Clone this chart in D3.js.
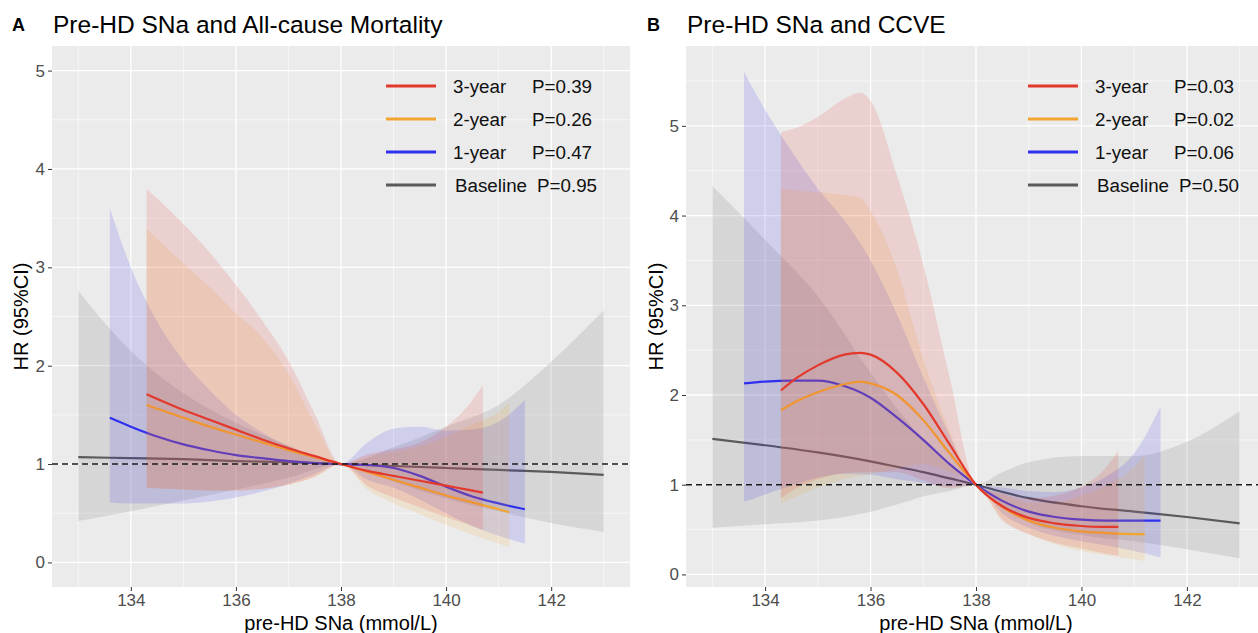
<!DOCTYPE html>
<html>
<head>
<meta charset="utf-8">
<script src="https://cdn.jsdelivr.net/npm/d3@7"></script>
<style>
  body { margin: 0; background: #fff; }
  svg { display: block; font-family: "Liberation Sans", Arial, sans-serif; }
</style>
</head>
<body>
<svg id="chart" width="1258" height="633"></svg>
<script>
// rows are [SNa, HR, lower 95%CI, upper 95%CI]
var mortBaseline = [
  [133, 1.07, 0.42, 2.76], [134, 1.06, 0.52, 2.15], [135, 1.05, 0.63, 1.72],
  [136, 1.03, 0.74, 1.42], [137, 1.02, 0.86, 1.19], [138, 1.00, 1.00, 1.00],
  [139, 0.98, 0.82, 1.17], [140, 0.96, 0.65, 1.38], [141, 0.94, 0.52, 1.60],
  [142, 0.92, 0.40, 2.04], [143, 0.89, 0.31, 2.56]
];
var mort1yr = [
  [133.6, 1.47, 0.61, 3.60], [134.0, 1.38, 0.60, 3.00], [134.5, 1.28, 0.60, 2.45],
  [135.0, 1.20, 0.60, 2.05], [135.5, 1.14, 0.62, 1.75], [136.0, 1.09, 0.66, 1.50],
  [136.5, 1.06, 0.72, 1.32], [137.0, 1.03, 0.80, 1.18], [137.5, 1.01, 0.90, 1.08],
  [138.0, 1.00, 1.00, 1.00], [138.5, 0.99, 0.84, 1.22], [139.0, 0.96, 0.76, 1.36],
  [139.5, 0.88, 0.64, 1.38], [140.0, 0.77, 0.50, 1.34], [140.5, 0.67, 0.37, 1.35],
  [141.0, 0.60, 0.27, 1.43], [141.5, 0.54, 0.19, 1.65]
];
var mort2yr = [
  [134.3, 1.60, 0.76, 3.39], [135.0, 1.47, 0.74, 3.04], [135.5, 1.38, 0.73, 2.80],
  [136.0, 1.30, 0.73, 2.53], [136.5, 1.22, 0.75, 2.29], [137.0, 1.14, 0.79, 1.92],
  [137.5, 1.07, 0.87, 1.41], [138.0, 1.00, 1.00, 1.00], [138.5, 0.92, 0.74, 1.08],
  [139.0, 0.84, 0.60, 1.12], [139.5, 0.76, 0.49, 1.18], [140.0, 0.68, 0.38, 1.28],
  [140.5, 0.61, 0.28, 1.40], [141.0, 0.54, 0.19, 1.53], [141.2, 0.51, 0.16, 1.62]
];
var mort3yr = [
  [134.3, 1.71, 0.76, 3.80], [135.0, 1.55, 0.74, 3.44], [135.5, 1.45, 0.73, 3.15],
  [136.0, 1.35, 0.73, 2.82], [136.5, 1.25, 0.75, 2.46], [137.0, 1.16, 0.79, 2.05],
  [137.5, 1.08, 0.87, 1.51], [138.0, 1.00, 1.00, 1.00], [138.5, 0.93, 0.78, 1.10],
  [139.0, 0.88, 0.66, 1.15], [139.5, 0.83, 0.56, 1.22], [140.0, 0.78, 0.46, 1.38],
  [140.4, 0.74, 0.39, 1.58], [140.7, 0.71, 0.33, 1.80]
];

var ccveBaseline = [
  [133, 1.51, 0.52, 4.33], [134, 1.44, 0.56, 3.73], [135, 1.36, 0.60, 3.10],
  [136, 1.26, 0.70, 2.25], [136.5, 1.20, 0.78, 1.85], [137, 1.14, 0.87, 1.50],
  [137.5, 1.07, 0.93, 1.22], [138, 1.00, 1.00, 1.00], [138.5, 0.92, 0.75, 1.14],
  [139, 0.85, 0.58, 1.25], [140, 0.76, 0.44, 1.32], [141, 0.70, 0.37, 1.32],
  [142, 0.64, 0.28, 1.48], [143, 0.57, 0.18, 1.82]
];
var ccve1yr = [
  [133.6, 2.13, 0.81, 5.60], [134.0, 2.15, 0.89, 5.18], [134.5, 2.16, 0.99, 4.72],
  [135.0, 2.16, 1.08, 4.30], [135.5, 2.10, 1.12, 3.95], [136.0, 1.97, 1.11, 3.50],
  [136.5, 1.75, 1.06, 2.90], [137.0, 1.50, 1.02, 2.20], [137.5, 1.23, 0.98, 1.55],
  [138.0, 1.00, 1.00, 1.00], [138.5, 0.82, 0.68, 0.97], [139.0, 0.70, 0.52, 0.93],
  [139.5, 0.64, 0.43, 0.92], [140.0, 0.61, 0.37, 0.97], [140.5, 0.60, 0.32, 1.10],
  [141.0, 0.60, 0.26, 1.35], [141.5, 0.60, 0.19, 1.87]
];
var ccve2yr = [
  [134.3, 1.83, 0.79, 4.30], [134.6, 1.93, 0.87, 4.28], [135.0, 2.03, 0.97, 4.26],
  [135.5, 2.12, 1.06, 4.23], [135.8, 2.15, 1.10, 4.20], [136.0, 2.13, 1.12, 4.05],
  [136.5, 2.00, 1.18, 3.40], [137.0, 1.72, 1.23, 2.40], [137.5, 1.35, 1.14, 1.60],
  [138.0, 1.00, 1.00, 1.00], [138.5, 0.75, 0.62, 0.90], [139.0, 0.60, 0.45, 0.80],
  [139.5, 0.52, 0.34, 0.80], [140.0, 0.48, 0.26, 0.88], [140.5, 0.46, 0.21, 1.00],
  [141.0, 0.45, 0.17, 1.20], [141.2, 0.45, 0.15, 1.33]
];
var ccve3yr = [
  [134.3, 2.05, 0.85, 4.93], [134.6, 2.19, 0.96, 4.98], [135.0, 2.33, 1.06, 5.10],
  [135.5, 2.45, 1.13, 5.30], [135.8, 2.47, 1.14, 5.37], [136.0, 2.45, 1.14, 5.28],
  [136.5, 2.25, 1.14, 4.45], [137.0, 1.90, 1.05, 3.45], [137.5, 1.45, 0.96, 2.20],
  [138.0, 1.00, 1.00, 1.00], [138.5, 0.76, 0.60, 0.90], [139.0, 0.63, 0.45, 0.85],
  [139.5, 0.57, 0.35, 0.88], [140.0, 0.54, 0.29, 0.98], [140.4, 0.53, 0.24, 1.15],
  [140.7, 0.53, 0.21, 1.38]
];

var seriesNames = ["3-year", "2-year", "1-year", "Baseline"];
var seriesColors = ["#e3382c", "#f2a62f", "#2f2fef", "#5a5a5a"];
var ribbonColors = ["#e3382c", "#f2a62f", "#2f2fef", "#808080"];
var mortP = ["P=0.39", "P=0.26", "P=0.47", "P=0.95"];
var ccveP = ["P=0.03", "P=0.02", "P=0.06", "P=0.50"];
var xTicks = [134, 136, 138, 140, 142];
var yTicks = [0, 1, 2, 3, 4, 5];

var svg = d3.select("#chart");

function drawPanel(o) {
  var g = svg.append("g").attr("transform", "translate(" + o.left + ",46)");
  var w = o.width, h = 541;

  var x = d3.scaleLinear().domain([132.5, 143.5]).range([0, w]);
  var y = d3.scaleLinear().domain(o.yDomain).range([h, 0]);

  g.append("rect").attr("width", w).attr("height", h).attr("fill", "#ebebeb");

  // minor grid
  var xMinor = d3.range(133, 144, 2);
  var yMinor = d3.range(0.5, o.yDomain[1], 1);
  g.selectAll(".xminor").data(xMinor).enter().append("line")
    .attr("x1", x).attr("x2", x).attr("y1", 0).attr("y2", h)
    .attr("stroke", "#fff").attr("stroke-width", 0.6);
  g.selectAll(".yminor").data(yMinor).enter().append("line")
    .attr("y1", y).attr("y2", y).attr("x1", 0).attr("x2", w)
    .attr("stroke", "#fff").attr("stroke-width", 0.6);
  // major grid
  g.selectAll(".xmajor").data(xTicks).enter().append("line")
    .attr("x1", x).attr("x2", x).attr("y1", 0).attr("y2", h)
    .attr("stroke", "#fff").attr("stroke-width", 1.3);
  g.selectAll(".ymajor").data(yTicks).enter().append("line")
    .attr("y1", y).attr("y2", y).attr("x1", 0).attr("x2", w)
    .attr("stroke", "#fff").attr("stroke-width", 1.3);

  var clipId = "clip" + o.key;
  g.append("clipPath").attr("id", clipId).append("rect").attr("width", w).attr("height", h);
  var plot = g.append("g").attr("clip-path", "url(#" + clipId + ")");

  var area = d3.area()
    .x(function(d) { return x(d[0]); })
    .y0(function(d) { return y(d[2]); })
    .y1(function(d) { return y(d[3]); })
    .curve(d3.curveMonotoneX);
  var line = d3.line()
    .x(function(d) { return x(d[0]); })
    .y(function(d) { return y(d[1]); })
    .curve(d3.curveMonotoneX);

  // draw order: baseline, 1-year, 2-year, 3-year
  [3, 2, 1, 0].forEach(function(i) {
    plot.append("path").datum(o.series[i])
      .attr("d", area).attr("fill", ribbonColors[i])
      .attr("fill-opacity", i == 3 ? 0.2 : 0.15);
    plot.append("path").datum(o.series[i])
      .attr("d", line).attr("fill", "none")
      .attr("stroke", seriesColors[i]).attr("stroke-width", 2.2);
  });

  plot.append("line")
    .attr("x1", 0).attr("x2", w).attr("y1", y(1)).attr("y2", y(1))
    .attr("stroke", "#1a1a1a").attr("stroke-width", 1.4)
    .attr("stroke-dasharray", "6,4");

  // axes
  var xAxis = g.append("g").attr("transform", "translate(0," + h + ")")
    .call(d3.axisBottom(x).tickValues(xTicks).tickSize(4).tickPadding(3));
  var yAxis = g.append("g")
    .call(d3.axisLeft(y).tickValues(yTicks).tickFormat(d3.format("d")).tickSize(4).tickPadding(3));
  [xAxis, yAxis].forEach(function(a) {
    a.select(".domain").remove();
    a.selectAll("line").attr("stroke", "#333");
    a.selectAll("text").attr("fill", "#4d4d4d").style("font-size", "17px")
      .style("font-family", "'Liberation Sans', Arial, sans-serif");
  });

  g.append("text").attr("x", w / 2).attr("y", h + 43)
    .attr("text-anchor", "middle").attr("fill", "#000").style("font-size", "20px")
    .text("pre-HD SNa (mmol/L)");
  g.append("text")
    .attr("transform", "translate(" + (-o.left + o.yTitleX) + "," + (h / 2) + ") rotate(-90)")
    .attr("text-anchor", "middle").attr("fill", "#000").style("font-size", "20px")
    .text("HR (95%CI)");

  // titles
  svg.append("text").attr("x", o.tagX).attr("y", 31)
    .style("font-size", "18px").style("font-weight", "bold").text(o.tag);
  svg.append("text").attr("x", o.left + 1).attr("y", 33)
    .style("font-size", "24.5px").text(o.title);

  // legend
  var lg = svg.append("g").attr("transform", "translate(" + o.legendX + ",86)");
  seriesNames.forEach(function(name, i) {
    var row = lg.append("g").attr("transform", "translate(0," + (i * 33) + ")");
    row.append("line").attr("x1", 0).attr("x2", 50)
      .attr("stroke", seriesColors[i]).attr("stroke-width", 3);
    var base = i == 3;
    row.append("text").attr("x", base ? 69 : 67).attr("y", 6.5)
      .style("font-size", "18.8px").attr("fill", "#111").text(name);
    row.append("text").attr("x", base ? 151 : 146).attr("y", 6.5)
      .style("font-size", "18.8px").attr("fill", "#111").text(o.pvals[i]);
  });
}

drawPanel({
  key: "A", left: 52, width: 578, yDomain: [-0.25, 5.25], yTitleX: 28,
  series: [mort3yr, mort2yr, mort1yr, mortBaseline],
  tag: "A", tagX: 12, title: "Pre-HD SNa and All-cause Mortality",
  legendX: 386, pvals: mortP
});
drawPanel({
  key: "B", left: 686, width: 580, yDomain: [-0.14, 5.89], yTitleX: 663,
  series: [ccve3yr, ccve2yr, ccve1yr, ccveBaseline],
  tag: "B", tagX: 647, title: "Pre-HD SNa and CCVE",
  legendX: 1028, pvals: ccveP
});
</script>
</body>
</html>
